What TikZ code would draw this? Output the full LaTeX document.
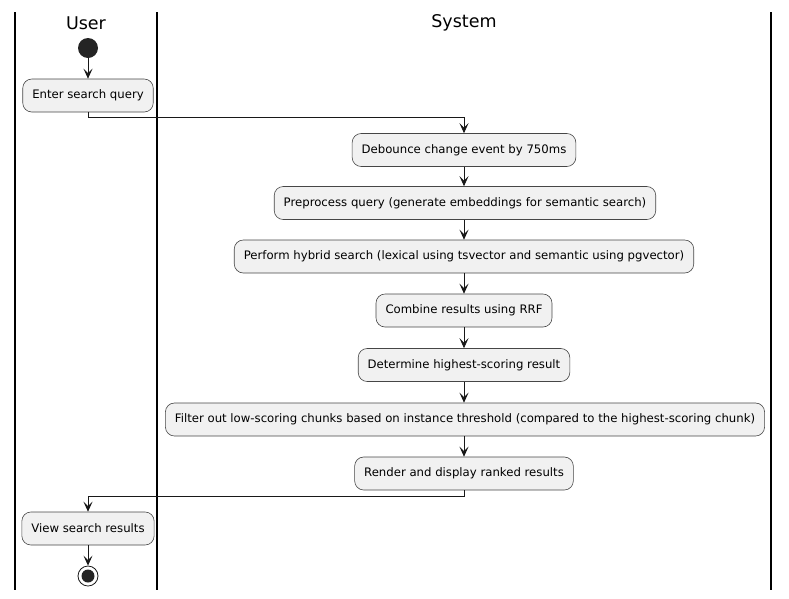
\documentclass[tikz,border=0pt]{standalone}
\usepackage{fontspec}
\setmainfont{DejaVu Sans}
\usetikzlibrary{arrows.meta}

\definecolor{actfill}{HTML}{F1F1F1}
\definecolor{actline}{HTML}{181818}

\tikzset{
  act/.style={draw=actline!80, fill=actfill, rounded corners=9pt, line width=0.6pt,
    minimum height=33pt, inner xsep=9.5pt, font=\fontsize{11.7}{14}\selectfont},
  flow/.style={-{Stealth[length=10pt,width=9pt,inset=4.5pt]}, line width=0.8pt, actline},
  lane/.style={line width=1.4pt},
  title/.style={font=\fontsize{17.5}{20}\selectfont}
}

\begin{document}
\begin{tikzpicture}[x=1pt,y=-1pt]
  \useasboundingbox (0,0) rectangle (789,598);
  % swimlanes
  \draw[lane] (15,12) -- (15,590);
  \draw[lane] (157,12) -- (157,590);
  \draw[lane] (771,12) -- (771,590);
  \node[title] (user) at (86,23) {User};
  \node[title] (system) at (464,23) {System};

  % activities
  \node[circle, fill=actline!95, minimum size=20pt, inner sep=0pt] (start) at (88,48) {};
  \node[act] (enter) at (88,95.5) {Enter search query};
  \node[act] (deb) at (464,150) {Debounce change event by 750ms};
  \node[act] (prep) at (465,203) {Preprocess query (generate embeddings for semantic search)};
  \node[act] (hyb) at (464,256.5) {Perform hybrid search (lexical using tsvector and semantic using pgvector)};
  \node[act] (rrf) at (464,310.5) {Combine results using RRF};
  \node[act] (best) at (464,365) {Determine highest-scoring result};
  \node[act] (filt) at (465,419.5) {Filter out low-scoring chunks based on instance threshold (compared to the highest-scoring chunk)};
  \node[act] (rend) at (464,473.5) {Render and display ranked results};
  \node[act] (view) at (88,528.5) {View search results};
  \node[circle, draw=actline, line width=0.8pt, minimum size=20pt, inner sep=0pt] (stop) at (88,576) {};
  \node[circle, fill=actline!95, minimum size=13pt, inner sep=0pt] (stopdot) at (stop) {};

  \coordinate (j1) at (88,117);
  \coordinate (j2) at (464,496);

  % connectors
  \draw[flow] (start) -- (enter);
  \draw[flow] (enter) -- (j1) -| (deb);
  \draw[flow] (deb) -- (prep.north -| deb);
  \draw[flow] (prep.south -| deb) -- (hyb);
  \draw[flow] (hyb) -- (rrf);
  \draw[flow] (rrf) -- (best);
  \draw[flow] (best) -- (filt.north -| best);
  \draw[flow] (filt.south -| rend) -- (rend);
  \draw[flow] (rend) -- (j2) -| (view);
  \draw[flow] (view) -- (stop);
\end{tikzpicture}
\end{document}
